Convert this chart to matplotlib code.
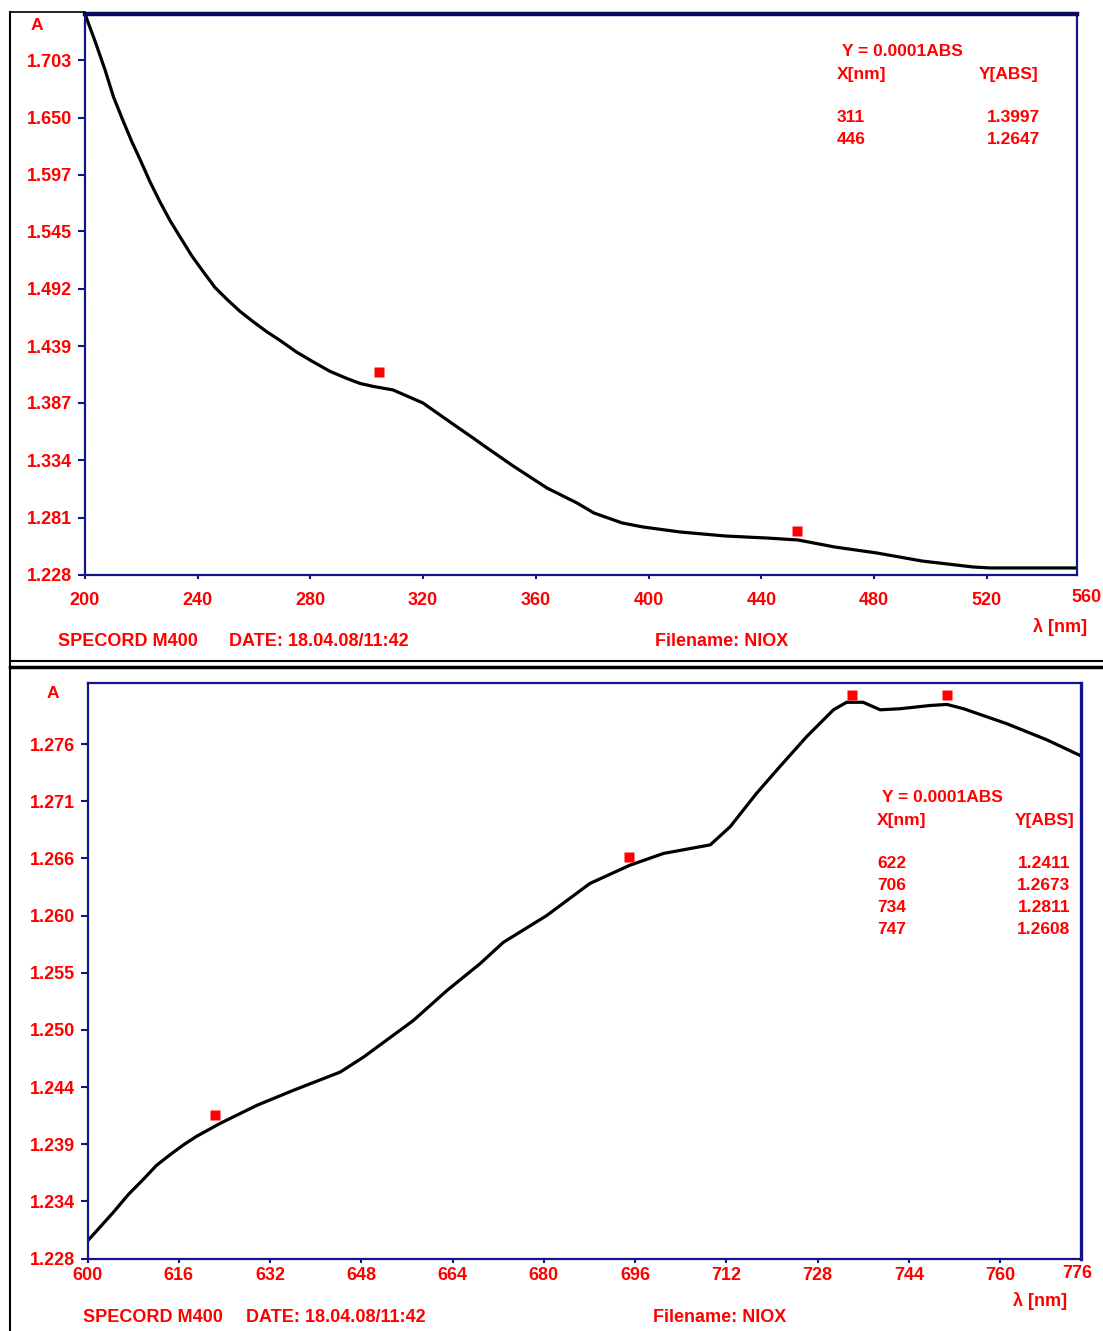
import numpy as np
import matplotlib
matplotlib.use('Agg')
import matplotlib.pyplot as plt
from matplotlib.lines import Line2D

# ---- top spectrum, 200-560 nm ----
top_nm = [200.0, 203.5, 207.1, 210.1, 213.5, 216.6, 219.5, 223.1, 226.6, 230.2,
          233.7, 237.9, 241.9, 246.1, 250.4, 255.0, 259.6, 264.5, 269.2, 275.1,
          280.9, 286.9, 293.0, 297.6, 302.2, 309.3, 319.9, 328.5, 337.7, 341.2,
          351.9, 363.9, 374.6, 380.6, 390.6, 398.0, 411.1, 427.1, 442.0, 453.0,
          466.1, 481.0, 497.0, 515.1, 521.1, 552.0]
top_abs = [1.7455, 1.7209, 1.6940, 1.6691, 1.6470, 1.6278, 1.6115, 1.5905, 1.5722, 1.5548,
           1.5400, 1.5224, 1.5080, 1.4933, 1.4822, 1.4712, 1.4618, 1.4524, 1.4444, 1.4336,
           1.4247, 1.4159, 1.4092, 1.4047, 1.4020, 1.3987, 1.3867, 1.3710, 1.3544, 1.3479,
           1.3286, 1.3083, 1.2944, 1.2852, 1.2760, 1.2723, 1.2677, 1.2640, 1.2621, 1.2603,
           1.2538, 1.2483, 1.2409, 1.2354, 1.2345, 1.2345]
top_mark_nm = [304.3, 452.5]
top_mark_abs = [1.4153, 1.2689]
top_xticks = [200, 240, 280, 320, 360, 400, 440, 480, 520]
top_ylabels = ['1.228', '1.281', '1.334', '1.387', '1.439', '1.492', '1.545', '1.597', '1.650', '1.703']
top_peak_x = ['311', '446']
top_peak_y = ['1.3997', '1.2647']

# ---- bottom spectrum, 600-776 nm ----
bot_nm = [600.1, 604.5, 607.2, 609.8, 612.1, 614.5, 616.8, 619.1, 623.2, 629.7,
          636.1, 644.3, 648.4, 657.1, 663.0, 668.8, 672.9, 680.5, 688.1, 695.1,
          701.0, 709.2, 712.7, 717.3, 721.4, 726.1, 730.8, 733.1, 736.0, 739.0,
          742.5, 747.7, 750.7, 753.6, 761.2, 768.2, 774.2]
bot_abs = [1.2297, 1.2323, 1.2340, 1.2354, 1.2367, 1.2377, 1.2386, 1.2394, 1.2406, 1.2423,
           1.2437, 1.2454, 1.2468, 1.2502, 1.2530, 1.2555, 1.2575, 1.2600, 1.2630, 1.2647,
           1.2658, 1.2666, 1.2683, 1.2714, 1.2739, 1.2767, 1.2792, 1.2799, 1.2799, 1.2792,
           1.2793, 1.2796, 1.2797, 1.2793, 1.2779, 1.2764, 1.2749]
bot_mark_nm = [622.4, 694.9, 734.1, 750.7]
bot_mark_abs = [1.2414, 1.2655, 1.2806, 1.2806]
bot_xticks = [600, 616, 632, 648, 664, 680, 696, 712, 728, 744, 760]
bot_ylabels = ['1.228', '1.234', '1.239', '1.244', '1.250', '1.255', '1.260', '1.266', '1.271', '1.276']
bot_peak_x = ['622', '706', '734', '747']
bot_peak_y = ['1.2411', '1.2673', '1.2811', '1.2608']

W, H = 1103, 1331
RED = '#ff0000'
NAVY = '#14148a'
FONT = 'Liberation Sans'

fig = plt.figure(figsize=(W / 100, H / 100), dpi=100)
fig.patch.set_facecolor('white')


def fx(px):
    return px / W


def fy(py):
    return 1 - py / H


def txt(px, py, s, size=12.5, ha='left', va='center'):
    fig.text(fx(px), fy(py), s, color=RED, fontsize=size, fontweight='bold',
             family=FONT, ha=ha, va=va)


def style_axes(ax, xpad):
    for side in ['left', 'bottom', 'right', 'top']:
        ax.spines[side].set_color(NAVY)
        ax.spines[side].set_linewidth(1.6)
    ax.tick_params(axis='y', direction='out', length=5, width=1.5, color=NAVY,
                   labelcolor=RED, labelsize=13, pad=4)
    ax.tick_params(axis='x', direction='out', length=3, width=1.5, color=NAVY,
                   labelcolor=RED, labelsize=13, pad=xpad)
    for lab in ax.get_xticklabels() + ax.get_yticklabels():
        lab.set_fontweight('bold')
        lab.set_family(FONT)


# top panel
ax1 = fig.add_axes([fx(85), fy(575), 992 / W, 561 / H])
ax1.plot(top_nm, top_abs, color='black', lw=2.3, solid_joinstyle='round', solid_capstyle='round')
ax1.plot(top_mark_nm, top_mark_abs, 's', color=RED, ms=7.5, mec='none')
ax1.set_xlim(200, 552)
ax1.set_ylim(1.228, 1.7455)
ax1.set_xticks(top_xticks)
ax1.set_xticklabels([str(v) for v in top_xticks])
ax1.set_yticks([float(v) for v in top_ylabels])
ax1.set_yticklabels(top_ylabels)
style_axes(ax1, 9)
ax1.spines['top'].set_linewidth(3.2)
ax1.spines['top'].set_color('#0a0a60')

# bottom panel
ax2 = fig.add_axes([fx(87.5), fy(1258.6), 993.5 / W, 575.6 / H])
ax2.plot(bot_nm, bot_abs, color='black', lw=2.3, solid_joinstyle='round', solid_capstyle='round')
ax2.plot(bot_mark_nm, bot_mark_abs, 's', color=RED, ms=7.5, mec='none')
ax2.set_xlim(600, 774.2)
ax2.set_ylim(1.228, 1.2817)
ax2.set_xticks(bot_xticks)
ax2.set_xticklabels([str(v) for v in bot_xticks])
ax2.set_yticks(np.linspace(float(bot_ylabels[0]), float(bot_ylabels[-1]), len(bot_ylabels)))
ax2.set_yticklabels(bot_ylabels)
style_axes(ax2, 3)
ax2.spines['right'].set_linewidth(2.4)

# end labels of the wavelength axes
txt(1087, 597, '560', 13, ha='center')
txt(1077, 1273, '776', 13, ha='center')

# axis titles
txt(37, 25, 'A', 12.5, ha='center')
txt(53, 693, 'A', 12.5, ha='center')
txt(1060, 627, '\u03bb [nm]', 13, ha='center')
txt(1040, 1301, '\u03bb [nm]', 13, ha='center')

# peak tables
txt(842, 52, 'Y = 0.0001ABS', 12.5)
txt(837, 75, 'X[nm]', 12.5)
txt(979, 75, 'Y[ABS]', 12.5)
for i in range(len(top_peak_x)):
    txt(837, 118 + 22 * i, top_peak_x[i], 12.5)
    txt(1040, 118 + 22 * i, top_peak_y[i], 12.5, ha='right')

txt(882, 797, 'Y = 0.0001ABS', 12.5)
txt(877, 820, 'X[nm]', 12.5)
txt(1015, 820, 'Y[ABS]', 12.5)
for i in range(len(bot_peak_x)):
    txt(877, 863 + 22 * i, bot_peak_x[i], 12.5)
    txt(1070, 863 + 22 * i, bot_peak_y[i], 12.5, ha='right')

# footers
txt(58, 641, 'SPECORD M400', 13)
txt(229, 641, 'DATE: 18.04.08/11:42', 13)
txt(655, 641, 'Filename: NIOX', 13)
txt(83, 1317, 'SPECORD M400', 13)
txt(246, 1317, 'DATE: 18.04.08/11:42', 13)
txt(653, 1317, 'Filename: NIOX', 13)

# window frame lines
frame = [([10, 10], [12, 1331], 1.5),
         ([10, 85], [12, 12], 1.2),
         ([10, 1103], [661, 661], 1.5),
         ([10, 1103], [667, 667], 2.5)]
for xs, ys, lw in frame:
    fig.add_artist(Line2D([fx(x) for x in xs], [fy(y) for y in ys],
                          color='black', lw=lw, transform=fig.transFigure))

fig.savefig('out.png', dpi=100, facecolor='white')
